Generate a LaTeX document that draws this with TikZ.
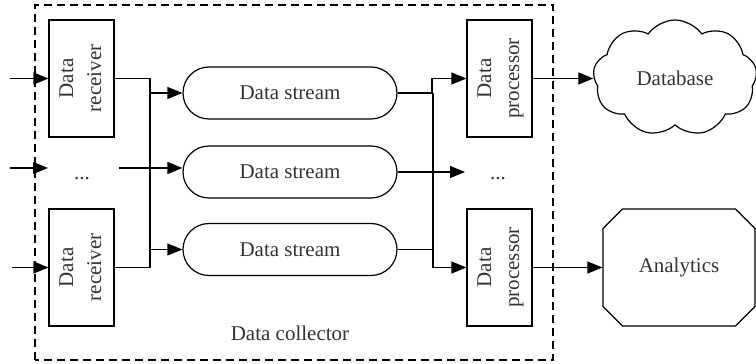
\documentclass[tikz,border=0pt]{standalone}
\usepackage{fontspec}
\setmainfont{Liberation Serif}
\usepackage{graphicx}
\usetikzlibrary{arrows.meta,shapes.misc,shapes.symbols}
\begin{document}
\begin{tikzpicture}[x=1pt,y=1pt,
  every node/.style={font=\fontsize{21}{28}\selectfont, text=black!80},
  ln/.style={line width=1.2pt},
  arr/.style={ln,-{Triangle[length=15pt,width=12pt]}},
  boxnode/.style={draw,line width=1.2pt,minimum width=65pt,minimum height=117pt,inner sep=0pt},
  streamnode/.style={draw,line width=1.2pt,rounded rectangle,minimum width=214pt,minimum height=52pt,inner sep=0pt},
  dotsnode/.style={anchor=base,inner sep=0pt}]
\useasboundingbox (0,0) rectangle (756,364);
\draw[line width=1.1pt,dash pattern=on 8pt off 5pt] (35,4) rectangle (553,359);
\node[anchor=base] (dc) at (290,23) {Data collector};
% receivers
\node[boxnode] (r1) at (81.5,285.5) {\rotatebox{90}{\begin{tabular}{@{}c@{}}Data\\receiver\end{tabular}}};
\node[boxnode] (r2) at (81.5,96.5) {\rotatebox{90}{\begin{tabular}{@{}c@{}}Data\\receiver\end{tabular}}};
\node[dotsnode] (ld) at (82,184) {...};
% streams
\node[streamnode] (s1) at (290,271) {Data stream};
\node[streamnode] (s2) at (290,192) {Data stream};
\node[streamnode] (s3) at (290,114.5) {Data stream};
% processors
\node[boxnode] (p1) at (499.5,285.5) {\rotatebox{90}{\begin{tabular}{@{}c@{}}Data\\processor\end{tabular}}};
\node[boxnode] (p2) at (499.5,96.5) {\rotatebox{90}{\begin{tabular}{@{}c@{}}Data\\processor\end{tabular}}};
\node[dotsnode] (rd) at (498,184) {...};
% outputs
\node[draw,line width=1.2pt,cloud,cloud puffs=9,cloud puff arc=110,aspect=1.5,minimum width=164pt,minimum height=116pt,inner sep=0pt] (db) at (675,286) {Database};
\node[draw,line width=1.2pt,chamfered rectangle,chamfered rectangle xsep=10pt,chamfered rectangle ysep=10pt,minimum width=152pt,minimum height=117pt,inner sep=0pt] (an) at (679,96.5) {Analytics};
% coordinates
\coordinate (i1) at (10,285.5);
\coordinate (i2) at (10,196);
\coordinate (i2e) at (48,196);
\coordinate (i3) at (12,96.5);
\coordinate (bl) at (150,0);
\coordinate (m1) at (119,196);
\coordinate (br) at (433,0);
\coordinate (m2) at (465,192);
% inputs
\draw[arr] (i1) -- (r1.west);
\draw[arr] (i2) -- (i2e);
\draw[arr] (i3) -- (r2.west);
% left bus
\draw[ln] (r1.east) -- (r1.east -| bl) -- (r2.east -| bl) -- (r2.east);
\draw[arr] (s1.west -| bl) -- (s1.west);
\draw[arr] (s3.west -| bl) -- (s3.west);
\draw[arr] (m1) -- (m1 -| s2.west);
% right bus
\draw[arr] (s1.east) -- ([xshift=-1pt]s1.east -| br) |- (p1.west);
\draw[arr] (s1.east -| br) |- (p2.west);
\draw[ln] (s3.east) -- (s3.east -| br);
\draw[arr] (s2.east) -- (m2);
% outputs
\draw[arr] (p1.east) -- (p1.east -| db.west);
\draw[arr] (p2.east) -- (an.west);
\end{tikzpicture}
\end{document}
